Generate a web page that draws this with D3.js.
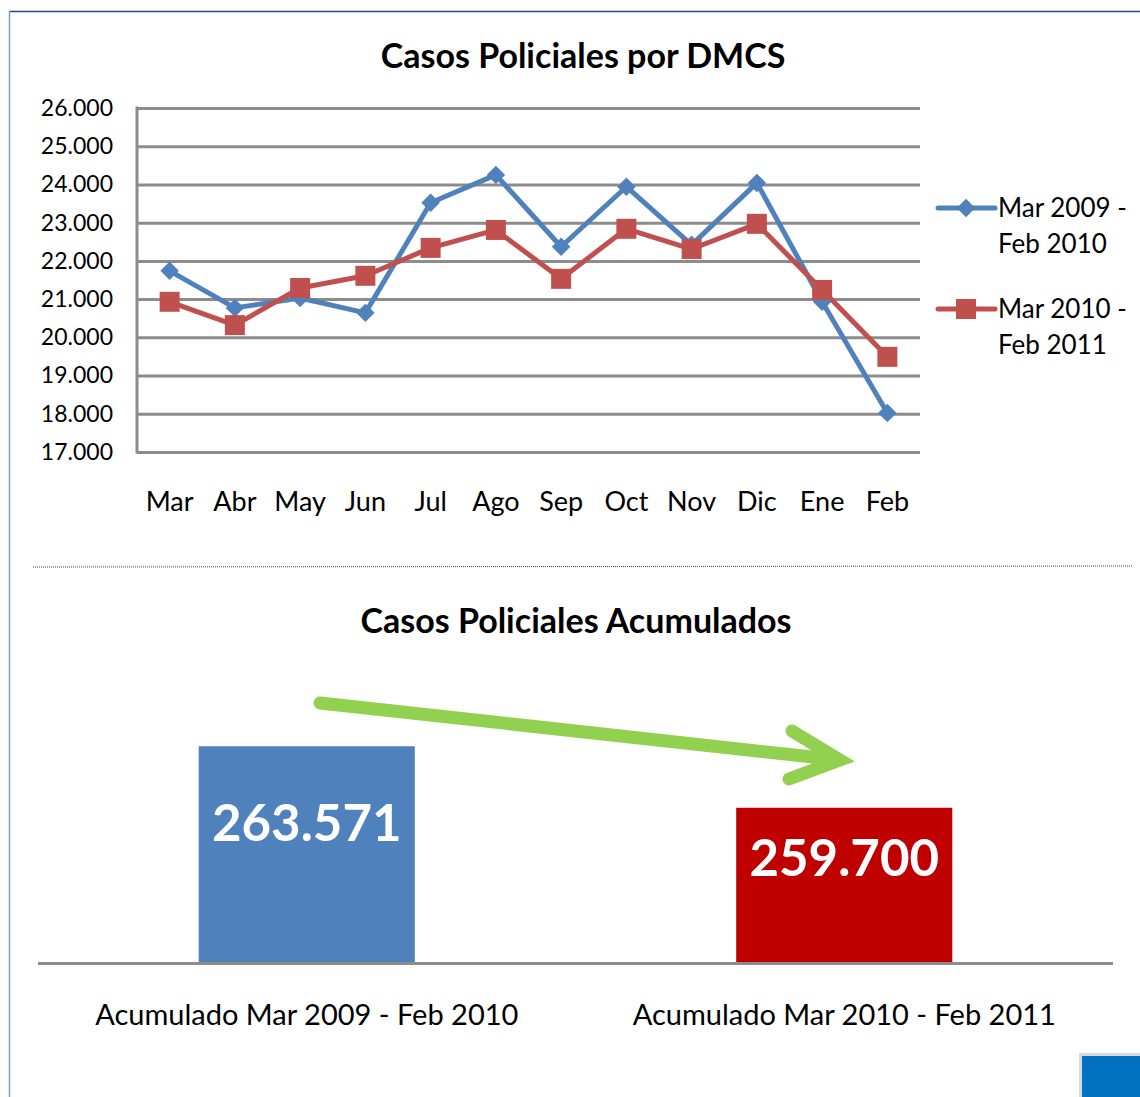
<!DOCTYPE html>
<html>
<head>
<meta charset="utf-8">
<script src="https://cdn.jsdelivr.net/npm/d3@7"></script>
<style>
  body { margin: 0; background: #fff; }
  svg { display: block; font-family: Lato, "Open Sans", sans-serif; }
  .grid line { stroke: #8c8c8c; stroke-width: 3; }
  .grid .domain { display: none; }
  .ylab text { font-size: 23px; fill: #000; }
  .xlab text { font-size: 27px; fill: #000; }
</style>
</head>
<body>
<svg id="chart" width="1140" height="1097"></svg>
<script>
// monthly data
var months = ["Mar", "Abr", "May", "Jun", "Jul", "Ago", "Sep", "Oct", "Nov", "Dic", "Ene", "Feb"];
var serie2009 = [21740, 20770, 21030, 20640, 23520, 24250, 22370, 23940, 22420, 24040, 20930, 18020];
var serie2010 = [20930, 20320, 21290, 21610, 22340, 22810, 21530, 22840, 22310, 22970, 21240, 19490];
var seriesNames = [["Mar 2009 -", "Feb 2010"], ["Mar 2010 -", "Feb 2011"]];
var yTicks = [17000, 18000, 19000, 20000, 21000, 22000, 23000, 24000, 25000, 26000];

// accumulated
var acumLabels = ["Acumulado Mar 2009 - Feb 2010", "Acumulado Mar 2010 - Feb 2011"];
var acumValues = [263571, 259700];
var acumText = ["263.571", "259.700"];

var svg = d3.select("#chart");
var fmt = d3.formatLocale({decimal: ",", thousands: ".", grouping: [3], currency: ["", ""]}).format(",d");

// frame
svg.append("line").attr("x1", 9).attr("x2", 1140).attr("y1", 11.5).attr("y2", 11.5)
  .style("stroke", "#1F497D").style("stroke-width", 1.5);
svg.append("line").attr("x1", 9.5).attr("x2", 9.5).attr("y1", 11).attr("y2", 1097)
  .style("stroke", "#7F9BC8").style("stroke-width", 1.5);

// ---------- line chart ----------
var pLeft = 137, pRight = 920, pTop = 108, pBottom = 452;

var x = d3.scaleBand().domain(months).range([pLeft, pRight]);
var y = d3.scaleLinear().domain([17000, 26000]).range([pBottom, pTop]);

svg.append("text")
  .attr("x", 583).attr("y", 68)
  .attr("text-anchor", "middle")
  .style("font-size", "34px").style("font-weight", "bold")
  .text("Casos Policiales por DMCS");

svg.append("g")
  .attr("class", "grid")
  .attr("transform", "translate(" + pLeft + ",0)")
  .call(d3.axisLeft(y).tickValues(yTicks).tickSize(-(pRight - pLeft)).tickFormat(""));

svg.append("line").attr("x1", pLeft).attr("x2", pLeft).attr("y1", pTop - 1.5).attr("y2", pBottom + 1.5)
  .style("stroke", "#8c8c8c").style("stroke-width", 3);

var ya = svg.append("g")
  .attr("class", "ylab")
  .attr("transform", "translate(" + pLeft + ",0)")
  .call(d3.axisLeft(y).tickValues(yTicks).tickSize(0).tickPadding(24).tickFormat(fmt))
  .attr("font-family", null).attr("font-size", null);
ya.select(".domain").remove();

var xa = svg.append("g")
  .attr("class", "xlab")
  .attr("transform", "translate(0," + pBottom + ")")
  .call(d3.axisBottom(x).tickSize(0).tickPadding(40))
  .attr("font-family", null).attr("font-size", null);
xa.select(".domain").remove();

var colors = ["#4F81BD", "#C0504D"];
var allSeries = [serie2009, serie2010];

var line = d3.line()
  .x(function(d, i) { return x(months[i]) + x.bandwidth() / 2; })
  .y(function(d) { return y(d); });

allSeries.forEach(function(s, k) {
  svg.append("path")
    .datum(s)
    .attr("d", line)
    .style("fill", "none")
    .style("stroke", colors[k])
    .style("stroke-width", 5)
    .style("stroke-linejoin", "round");
});

var diamond = d3.symbol().type(d3.symbolSquare).size(170);
var square = d3.symbol().type(d3.symbolSquare).size(400);

allSeries.forEach(function(s, k) {
  svg.append("g").selectAll("path")
    .data(s)
    .enter().append("path")
    .attr("d", k == 0 ? diamond : square)
    .attr("transform", function(d, i) {
      var t = "translate(" + (x(months[i]) + x.bandwidth() / 2) + "," + y(d) + ")";
      return k == 0 ? t + "rotate(45)" : t;
    })
    .style("fill", colors[k]);
});

// legend
var legend = svg.selectAll(".legend")
  .data(seriesNames)
  .enter().append("g")
  .attr("class", "legend")
  .attr("transform", function(d, i) { return "translate(938," + (208 + i * 101) + ")"; });

legend.append("line")
  .attr("x1", 0).attr("x2", 57)
  .style("stroke", function(d, i) { return colors[i]; })
  .style("stroke-width", 5).style("stroke-linecap", "round");

legend.append("path")
  .attr("d", function(d, i) { return i == 0 ? diamond() : square(); })
  .attr("transform", function(d, i) { return "translate(28,0)" + (i == 0 ? "rotate(45)" : ""); })
  .style("fill", function(d, i) { return colors[i]; });

legend.selectAll("text")
  .data(function(d) { return d; })
  .enter().append("text")
  .attr("x", 60)
  .attr("y", function(d, j) { return 9 + j * 36; })
  .style("font-size", "26px")
  .text(function(d) { return d; });

// separator
svg.append("line").attr("x1", 33).attr("x2", 1132).attr("y1", 567).attr("y2", 566)
  .style("stroke", "#444").style("stroke-width", 1).style("stroke-dasharray", "1,1");

// ---------- accumulated bars ----------
var baseY = 962;
var bx = d3.scaleBand().domain(acumLabels).range([38, 1113]);
var by = d3.scaleLinear().domain([250000, 265000]).range([baseY, baseY - 238.5]);
var barW = bx.bandwidth() * 0.402;
var barColors = ["#4F81BD", "#C00000"];

svg.append("text")
  .attr("x", 576).attr("y", 633)
  .attr("text-anchor", "middle")
  .style("font-size", "34px").style("font-weight", "bold")
  .text("Casos Policiales Acumulados");

svg.selectAll(".bar")
  .data(acumValues)
  .enter().append("rect")
  .attr("class", "bar")
  .attr("x", function(d, i) { return bx(acumLabels[i]) + (bx.bandwidth() - barW) / 2; })
  .attr("width", barW)
  .attr("y", function(d) { return by(d); })
  .attr("height", function(d) { return baseY - by(d); })
  .style("fill", function(d, i) { return barColors[i]; });

svg.selectAll(".barval")
  .data(acumValues)
  .enter().append("text")
  .attr("class", "barval")
  .attr("x", function(d, i) { return bx(acumLabels[i]) + bx.bandwidth() / 2; })
  .attr("y", function(d) { return by(d) + (baseY - by(d)) * 0.44; })
  .attr("text-anchor", "middle")
  .style("font-size", "51px").style("font-weight", "bold").style("fill", "#fff")
  .text(function(d, i) { return acumText[i]; });

svg.append("line").attr("x1", 38).attr("x2", 1113).attr("y1", baseY + 1.5).attr("y2", baseY + 1.5)
  .style("stroke", "#8c8c8c").style("stroke-width", 3);

svg.selectAll(".barlab")
  .data(acumLabels)
  .enter().append("text")
  .attr("class", "barlab")
  .attr("x", function(d) { return bx(d) + bx.bandwidth() / 2; })
  .attr("y", 1025)
  .attr("text-anchor", "middle")
  .style("font-size", "29px")
  .text(function(d) { return d; });

// green trend arrow
svg.append("path")
  .attr("d", "M320,703 L840,760 M792,731 L840,760 L789,779")
  .style("fill", "none").style("stroke", "#92D050").style("stroke-width", 13)
  .style("stroke-linecap", "round").style("stroke-linejoin", "miter");

// corner block
svg.append("rect").attr("x", 1079).attr("y", 1053).attr("width", 61).attr("height", 44)
  .style("fill", "#d9d9d9");
svg.append("rect").attr("x", 1082).attr("y", 1056).attr("width", 58).attr("height", 41)
  .style("fill", "#0070C0");
</script>
</body>
</html>
